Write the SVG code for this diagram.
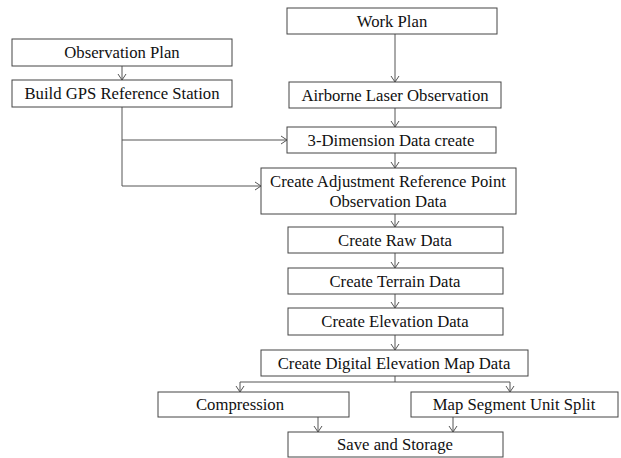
<svg xmlns="http://www.w3.org/2000/svg" width="621" height="458" viewBox="0 0 621 458">
<defs>
<style>
.box{fill:#fff;stroke:#444;stroke-width:1}
.t{font-family:"Liberation Serif","DejaVu Serif",serif;font-size:16.7px;fill:#111;text-anchor:middle}
.c{fill:none;stroke:#555;stroke-width:1}
</style>
<marker id="a" markerWidth="10" markerHeight="10" refX="8" refY="5" orient="auto" markerUnits="userSpaceOnUse">
<path d="M2,1 L8,5 L2,9" fill="none" stroke="#555" stroke-width="1"/>
</marker>
</defs>
<rect width="621" height="458" fill="#fff"/>
<g id="connectors">
<path class="c" d="M395,34 V82" marker-end="url(#a)"/>
<path class="c" d="M122,66 V80" marker-end="url(#a)"/>
<path class="c" d="M122,107 V140 H287" marker-end="url(#a)"/>
<path class="c" d="M122,140 V186 H261" marker-end="url(#a)"/>
<path class="c" d="M395,108 V127" marker-end="url(#a)"/>
<path class="c" d="M395,153 V168" marker-end="url(#a)"/>
<path class="c" d="M395,214 V227" marker-end="url(#a)"/>
<path class="c" d="M395,253 V268" marker-end="url(#a)"/>
<path class="c" d="M395,294 V308" marker-end="url(#a)"/>
<path class="c" d="M395,335 V350" marker-end="url(#a)"/>
<path class="c" d="M395,376 V382"/>
<path class="c" d="M395,382 H240 V392" marker-end="url(#a)"/>
<path class="c" d="M395,382 H510 V392" marker-end="url(#a)"/>
<path class="c" d="M318,417 V432" marker-end="url(#a)"/>
<path class="c" d="M453,417 V432" marker-end="url(#a)"/>
</g>
<g id="work-plan"><rect class="box" x="287" y="8" width="210" height="26"/><text class="t" x="392" y="26.5">Work Plan</text></g>
<g id="observation-plan"><rect class="box" x="12" y="39" width="220" height="27"/><text class="t" x="122" y="58">Observation Plan</text></g>
<g id="build-gps"><rect class="box" x="12" y="80" width="220" height="27"/><text class="t" x="122" y="99">Build GPS Reference Station</text></g>
<g id="airborne"><rect class="box" x="289" y="82" width="212" height="26"/><text class="t" x="395" y="100.5">Airborne Laser Observation</text></g>
<g id="three-d"><rect class="box" x="287" y="127" width="209" height="26"/><text class="t" x="391" y="146">3-Dimension Data create</text></g>
<g id="adjustment"><rect class="box" x="261" y="168" width="255" height="46"/><text class="t" x="388" y="187">Create Adjustment Reference Point</text><text class="t" x="388" y="207">Observation Data</text></g>
<g id="raw"><rect class="box" x="288" y="227" width="215" height="26"/><text class="t" x="395" y="245.5">Create Raw Data</text></g>
<g id="terrain"><rect class="box" x="288" y="268" width="215" height="26"/><text class="t" x="395" y="286.5">Create Terrain Data</text></g>
<g id="elevation"><rect class="box" x="288" y="308" width="215" height="27"/><text class="t" x="395" y="327">Create Elevation Data</text></g>
<g id="dem"><rect class="box" x="261" y="350" width="267" height="26"/><text class="t" x="394" y="368.5">Create Digital Elevation Map Data</text></g>
<g id="compression"><rect class="box" x="158" y="392" width="191" height="25"/><text class="t" x="240" y="410">Compression</text></g>
<g id="map-segment"><rect class="box" x="411" y="392" width="207" height="25"/><text class="t" x="514" y="410">Map Segment Unit Split</text></g>
<g id="save"><rect class="box" x="288" y="432" width="215" height="25"/><text class="t" x="395" y="450">Save and Storage</text></g>
</svg>
